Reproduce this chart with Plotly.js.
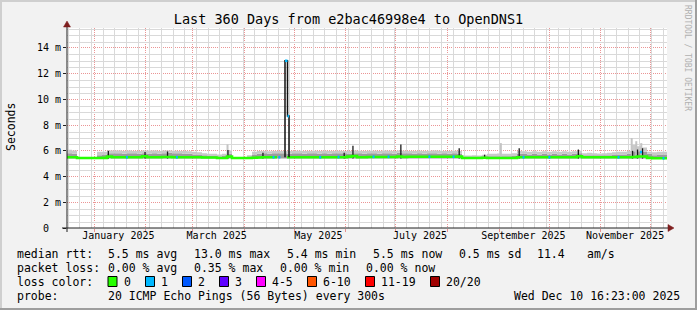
<!DOCTYPE html>
<html><head><meta charset="utf-8">
<script src="https://cdn.plot.ly/plotly-3.0.1.min.js"></script>
<style>html,body{margin:0;padding:0;background:#f2f2f2}#chart{width:697px;height:310px}</style>
</head><body><div id="chart"></div>
<script>
// ---------- data ----------
const startTime = '2024-12-15 16:23:00';
const endTime   = '2025-12-10 16:23:00';
const blockDays = 3; // each value below covers 3 days
const medianVals = [
 5.50,5.50,5.44,5.44,5.44,5.44,5.44,5.45,5.55,5.50,
 5.50,5.50,5.50,5.50,5.50,5.58,5.50,5.50,5.50,5.52,
 5.52,5.50,5.50,5.50,5.50,5.50,5.50,5.48,5.48,5.48,
 5.44,5.44,5.55,5.44,5.44,5.44,5.44,5.46,5.48,5.50,
 5.50,5.50,5.50,null,5.50,5.50,5.50,5.50,5.50,5.50,
 5.50,5.50,5.50,5.50,5.50,5.50,5.55,5.60,5.50,5.50,
 5.52,5.52,5.52,5.52,5.52,5.52,5.56,5.52,5.54,5.54,
 5.54,5.54,5.54,5.54,5.54,5.54,5.54,5.54,5.55,5.44,
 5.44,5.44,5.44,5.46,5.44,5.44,5.44,5.44,5.44,5.44,
 5.50,5.50,5.50,5.50,5.50,5.50,5.50,5.50,5.50,5.50,
 5.50,5.50,5.58,5.50,5.50,5.50,5.50,5.50,5.50,5.50,
 5.50,5.50,5.50,5.52,5.56,5.56,5.45,5.42,5.42,5.42
];
const smokeMid = [
 5.82,5.77,5.44,5.44,5.44,5.44,5.66,5.72,5.82,5.82,
 5.82,5.77,5.82,5.82,5.77,5.82,5.77,5.82,5.77,5.82,
 5.86,5.82,5.82,5.77,5.77,5.72,5.67,5.66,5.60,5.60,
 5.55,5.60,5.77,5.44,5.44,5.44,5.52,5.72,5.77,5.82,
 5.77,5.82,5.82,5.82,5.77,5.82,5.82,5.77,5.82,5.82,
 5.77,5.82,5.77,5.82,5.82,5.82,5.77,5.82,5.82,5.77,
 5.82,5.82,5.77,5.82,5.82,5.77,5.86,5.82,5.82,5.77,
 5.82,5.77,5.82,5.82,5.77,5.82,5.77,5.82,5.77,5.52,
 5.52,5.52,5.52,5.58,5.58,5.58,5.58,5.58,5.58,5.64,
 5.77,5.77,5.72,5.77,5.72,5.77,5.72,5.77,5.72,5.77,
 5.72,5.77,5.82,5.66,5.66,5.66,5.66,5.66,5.66,5.72,
 5.72,5.72,5.77,5.96,5.96,5.92,5.77,5.66,5.72,5.72
];
const smokeTop = [
 6.08,6.03,5.44,5.44,5.44,5.44,5.92,5.92,6.03,6.03,
 6.03,5.98,6.03,5.98,5.98,6.03,6.03,6.03,5.98,6.03,
 6.03,6.00,5.98,5.98,5.96,5.92,5.88,5.82,5.77,5.77,
 5.72,5.77,6.03,5.44,5.44,5.44,5.66,5.92,5.98,5.98,
 5.96,5.98,5.98,5.98,5.98,6.00,6.00,5.98,5.98,6.00,
 5.98,6.00,5.98,5.98,6.00,5.98,5.98,6.03,6.00,5.98,
 6.00,6.00,5.98,6.03,6.00,5.98,6.03,6.00,5.98,5.98,
 6.00,5.98,6.00,6.03,6.00,5.98,5.98,6.00,5.98,5.64,
 5.64,5.66,5.64,5.70,5.77,5.77,5.80,5.77,5.77,5.82,
 5.98,5.96,5.92,5.96,5.92,5.96,5.92,5.96,5.92,5.96,
 5.92,5.96,6.00,5.82,5.86,5.82,5.80,5.82,5.86,5.88,
 5.92,5.92,5.98,6.45,6.35,6.25,5.92,5.88,5.92,5.92
];
const smokeFloor = 5.40;
// dark smoke spikes
const spikeDates = ['2025-01-09 12:00','2025-01-31 12:00','2025-02-14 00:00','2025-03-22 06:00','2025-04-12 06:00',
  '2025-05-31 00:00','2025-06-05 06:00','2025-07-04 00:00','2025-08-08 00:00','2025-08-23 06:00',
  '2025-09-13 00:00','2025-10-18 12:00','2025-11-20 00:00','2025-11-23 00:00','2025-11-26 00:00'];
const spikeTops = [6.00,5.90,5.95,6.07,5.85,5.85,6.40,6.50,6.20,5.70,6.20,6.10,6.00,6.10,6.20];
// light smoke spikes
const lightDates = ['2025-03-22 00:00','2025-09-02 00:00','2025-11-19 12:00','2025-11-22 06:00','2025-11-25 06:00'];
const lightTops  = [6.50,6.60,7.00,6.75,6.60];
// loss = 1 periods
const blueDates = ['2025-01-20 00:00','2025-02-19 00:00','2025-04-18 00:00','2025-04-21 12:00','2025-05-16 00:00',
  '2025-05-27 00:00','2025-06-17 00:00','2025-06-26 00:00','2025-07-20 12:00','2025-08-04 00:00',
  '2025-09-15 00:00','2025-09-30 12:00','2025-11-11 00:00','2025-11-24 12:00','2025-12-08 00:00'];
const blueVals = [5.50,5.50,5.50,5.50,5.50,5.52,5.54,5.54,5.54,5.54,5.50,5.50,5.50,5.90,5.42];
// the big April outlier
const bigSpikeDates = ['2025-04-25 11:35','2025-04-26 23:35','2025-04-27 21:11'];
const bigSpikeVals  = [13.0, 8.7];
const bigSpikeBase  = 5.5;
// axis labels
const monthLabelDates = ['2025-01-15 12:00','2025-03-15 12:00','2025-05-15 12:00','2025-07-15 12:00','2025-09-15 12:00','2025-11-15 12:00'];
const monthLabels = ['January 2025','March 2025','May 2025','July 2025','September 2025','November 2025'];
const yTickVals = [0,2,4,6,8,10,12,14];
const yTickText = ['0\u00a0\u00a0','2 m','4 m','6 m','8 m','10 m','12 m','14 m'];
const lossLabels = ['0','1','2','3','4-5','6-10','11-19','20/20'];
const lossColors = ['#26ff00','#00b8ff','#0059ff','#5e00ff','#ff00ff','#ff5500','#ff0000','#a00000'];

// ---------- helpers ----------
const DAY = 86400000;
function toMs(s){ return Date.parse(s.replace(' ','T')+'Z'); }
function toStr(ms){ return new Date(ms).toISOString().slice(0,19).replace('T',' '); }
const t0 = toMs(startTime), t1 = toMs(endTime);
const blockX = medianVals.map((_,i)=>toStr(t0 + i*blockDays*DAY)).concat([endTime]);
const ext = a => a.concat([a[a.length-1]]);

const MONO = 'DejaVu Sans Mono';
const L=67,R=667,T=28,B=228,W=R-L,H=B-T;
const fx = px => (px-L)/W, fy = py => (B-py)/H;
const YR = [0,15.55];
const GRID='#d9d9d9', MGRID='rgba(222,79,79,0.6)', DOT='1px,1px';

const traces = [];
// minor grid lines (weekly / 0.5 ms), snapped to pixel centres
{ const gx=[],gy=[];
  for(let t=toMs('2024-12-16 00:00:00'); t<t1; t+=7*DAY){
    const px=Math.round(L+(t-t0)/(t1-t0)*W)+0.5, ts=toStr(t0+(px-L)/W*(t1-t0));
    gx.push(ts,ts,null); gy.push(YR[0],YR[1],null);
  }
  traces.push({x:gx,y:gy,mode:'lines',line:{color:GRID,width:1},hoverinfo:'skip'});
  const hx=[],hy=[];
  for(let v=0.5; v<YR[1]; v+=0.5){
    if(Math.abs(v/2-Math.round(v/2))<1e-9) continue;
    const py=Math.round(B-v/YR[1]*H)+0.5, vs=(B-py)/H*YR[1];
    hx.push(startTime,endTime,null); hy.push(vs,vs,null);
  }
  traces.push({x:hx,y:hy,mode:'lines',line:{color:GRID,width:1},hoverinfo:'skip'});
}
traces.push({x:blockX, y:blockX.map(()=>smokeFloor), mode:'lines', line:{width:0, shape:'hv'}, hoverinfo:'skip'});
traces.push({x:blockX, y:ext(smokeMid), mode:'lines', line:{width:0, shape:'hv'}, fill:'tonexty', fillcolor:'#9c9c9c', hoverinfo:'skip'});
traces.push({x:blockX, y:ext(smokeTop), mode:'lines', line:{width:0, shape:'hv'}, fill:'tonexty', fillcolor:'#c9c9c9', hoverinfo:'skip'});
{ const x=[],y=[]; lightDates.forEach((d,i)=>{x.push(d,d,null); y.push(smokeFloor,lightTops[i],null);});
  traces.push({x,y,mode:'lines',line:{color:'#c4c4c4',width:2},hoverinfo:'skip'}); }
{ const x=[],y=[]; spikeDates.forEach((d,i)=>{x.push(d,d,null); y.push(smokeFloor,spikeTops[i],null);});
  traces.push({x,y,mode:'lines',line:{color:'#1a1a1a',width:1.3},hoverinfo:'skip'}); }
traces.push({x:blockX, y:ext(medianVals), mode:'lines', line:{color:lossColors[0], width:2.6, shape:'hv'}, connectgaps:false, hoverinfo:'skip'});
{ const x=[],y=[]; blueDates.forEach((d,i)=>{x.push(d,toStr(toMs(d)+1.2*DAY),null); y.push(blueVals[i],blueVals[i],null);});
  traces.push({x,y,mode:'lines',line:{color:lossColors[1],width:2.6},hoverinfo:'skip'}); }
traces.push({x:[bigSpikeDates[0],bigSpikeDates[0],bigSpikeDates[1],bigSpikeDates[2]],
  y:[bigSpikeBase,bigSpikeVals[0],bigSpikeVals[1],bigSpikeBase], mode:'lines', line:{color:'#111',width:1.5,shape:'hv'}, hoverinfo:'skip'});
traces.push({x:[bigSpikeDates[0],bigSpikeDates[1],null,bigSpikeDates[1],bigSpikeDates[2]],
  y:[bigSpikeVals[0],bigSpikeVals[0],null,bigSpikeVals[1],bigSpikeVals[1]], mode:'lines', line:{color:lossColors[1],width:2.6}, hoverinfo:'skip'});
traces.push({x:[startTime,endTime], y:[null,null], xaxis:'x2', yaxis:'y', mode:'lines', hoverinfo:'skip'});

// ---------- layout ----------
const shapes=[];
const ann=[];
function txt(t,xp,yp,o){ ann.push(Object.assign({text:t,xref:'paper',yref:'paper',x:fx(xp),y:fy(yp),xanchor:'left',yanchor:'middle',
  showarrow:false,borderpad:0,font:{family:MONO,size:11.5,color:'#000'}},o||{})); }
txt('median rtt:',15.5,254); txt('5.5 ms avg',106.5,254); txt('13.0 ms max',192.5,254); txt('5.4 ms min',286,254);
txt('5.5 ms now',372,254); txt('0.5 ms sd',457.5,254); txt('11.4',535.5,254); txt('am/s',585.5,254);
txt('packet loss:',15.5,268); txt('0.00 % avg',106.5,268); txt('0.35 % max',192.5,268); txt('0.00 % min',278.5,268); txt('0.00 % now',364.5,268);
txt('loss color:',15.5,282);
const boxX=[108,145.5,182.5,219.5,256.5,307.5,365.5,430.5];
lossLabels.forEach((lab,i)=>{
  shapes.push({type:'rect',xref:'paper',yref:'paper',x0:fx(boxX[i]),x1:fx(boxX[i]+9),y0:fy(286.5),y1:fy(276.5),
    fillcolor:lossColors[i],line:{color:'#000',width:1}});
  txt(lab,boxX[i]+14.5,282);
});
txt('probe:',15.5,296); txt('20 ICMP Echo Pings (56 Bytes) every 300s',106.5,296);
txt('Wed Dec 10 16:23:00 2025',513,296);
ann.push({text:'Seconds',xref:'paper',yref:'paper',x:fx(11),y:fy(127),textangle:-90,showarrow:false,
  xanchor:'center',yanchor:'middle',font:{family:MONO,size:11.5,color:'#000'}});
ann.push({text:'RRDTOOL / TOBI OETIKER',xref:'paper',yref:'paper',x:fx(688),y:fy(58),textangle:90,showarrow:false,
  xanchor:'center',yanchor:'middle',font:{family:MONO,size:8,color:'#b0b0b0'}});
const AX='#1f1f1f', ARR='#7f1f1f';
shapes.push({type:'line',xref:'paper',yref:'paper',x0:fx(62),x1:fx(668),y0:0,y1:0,line:{color:AX,width:1}});
shapes.push({type:'line',xref:'paper',yref:'paper',x0:0,x1:0,y0:fy(232),y1:fy(25),line:{color:AX,width:1}});
shapes.push({type:'path',xref:'paper',yref:'paper',fillcolor:ARR,line:{color:ARR,width:0.5},
  path:`M ${fx(668)} ${fy(224.5)} L ${fx(668)} ${fy(231.5)} L ${fx(674)} ${fy(228)} Z`});
shapes.push({type:'path',xref:'paper',yref:'paper',fillcolor:ARR,line:{color:ARR,width:0.5},
  path:`M ${fx(63.5)} ${fy(27)} L ${fx(70.5)} ${fy(27)} L ${fx(67)} ${fy(21)} Z`});
shapes.push({type:'rect',xref:'paper',yref:'paper',x0:fx(0),x1:fx(697),y0:fy(0),y1:fy(2),fillcolor:'#cfcfcf',line:{width:0}});
shapes.push({type:'rect',xref:'paper',yref:'paper',x0:fx(0),x1:fx(2),y0:fy(0),y1:fy(310),fillcolor:'#cfcfcf',line:{width:0}});
shapes.push({type:'rect',xref:'paper',yref:'paper',x0:fx(0),x1:fx(697),y0:fy(308),y1:fy(310),fillcolor:'#9e9e9e',line:{width:0}});
shapes.push({type:'rect',xref:'paper',yref:'paper',x0:fx(695),x1:fx(697),y0:fy(0),y1:fy(310),fillcolor:'#9e9e9e',line:{width:0}});

const layout = {
  width:697, height:310, margin:{l:L,r:697-R,t:T,b:310-B,pad:0},
  paper_bgcolor:'#f2f2f2', plot_bgcolor:'#ffffff', showlegend:false,
  title:{text:'Last 360 Days from e2bac46998e4 to OpenDNS1', font:{family:MONO,size:13.5,color:'#000'},
    x:0.5, xref:'container', y:1-19/310, yref:'container', xanchor:'center', yanchor:'middle'},
  xaxis:{type:'date', range:[startTime,endTime], showline:false, zeroline:false,
    tickmode:'linear', tick0:'2025-01-01', dtick:'M1', showticklabels:false,
    showgrid:true, gridcolor:MGRID, griddash:DOT, gridwidth:1, ticks:'outside', ticklen:3, tickcolor:MGRID},
  xaxis2:{type:'date', range:[startTime,endTime], overlaying:'x', anchor:'y', side:'bottom', showgrid:false, zeroline:false,
    showline:false, tickmode:'array', tickvals:monthLabelDates, ticktext:monthLabels, ticks:'',
    tickfont:{family:MONO,size:10,color:'#000'}},
  yaxis:{range:YR, showline:false, zeroline:false, tickmode:'array', tickvals:yTickVals, ticktext:yTickText,
    tickfont:{family:MONO,size:10,color:'#000'}, showgrid:true, gridcolor:MGRID, griddash:DOT, gridwidth:1,
    ticks:'outside', ticklen:3, tickcolor:AX},
  annotations:ann, shapes:shapes
};
Plotly.newPlot('chart', traces, layout, {staticPlot:true, displayModeBar:false});
</script></body></html>
